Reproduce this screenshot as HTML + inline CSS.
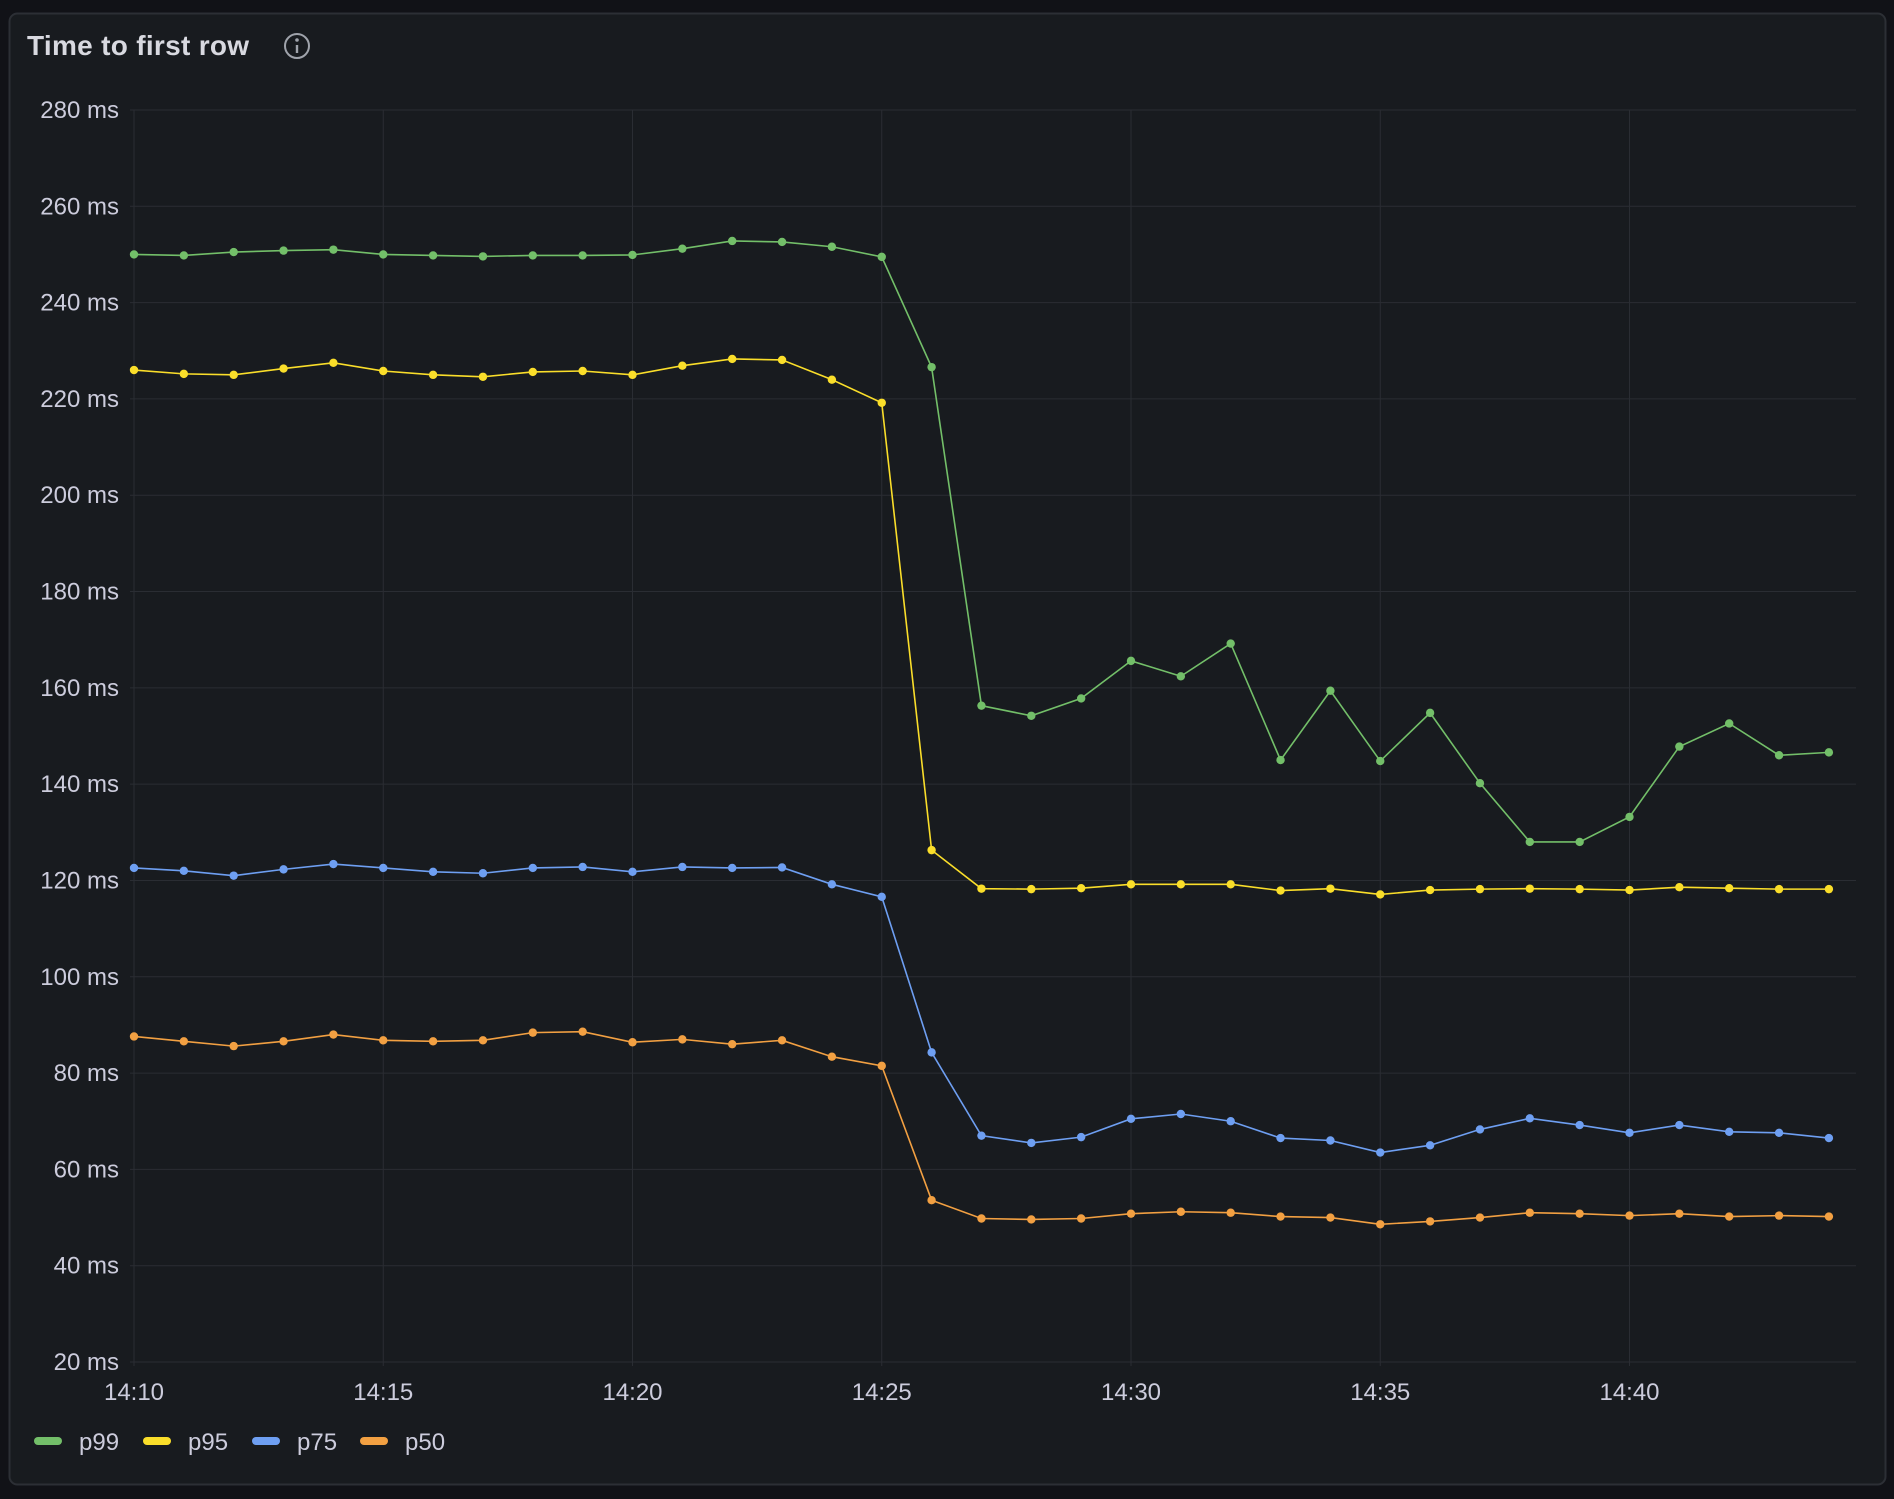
<!DOCTYPE html>
<html><head><meta charset="utf-8"><style>
body{margin:0;background:#111217;width:1894px;height:1494px;overflow:hidden;font-family:"Liberation Sans",sans-serif}
</style></head><body>
<svg id="s" width="1894" height="1494" xmlns="http://www.w3.org/2000/svg" font-family="Liberation Sans, sans-serif">
<rect x="9.5" y="13.5" width="1876" height="1471" rx="8" fill="#181b1f" stroke="#2c2f35" stroke-width="2"/>
<text x="27" y="55" fill="#d8d9e0" font-size="28" font-weight="bold" letter-spacing="0.3">Time to first row</text>
<circle cx="297" cy="46" r="12" fill="none" stroke="#9fa3ab" stroke-width="2"/>
<circle cx="297" cy="40" r="1.8" fill="#9fa3ab"/>
<line x1="297" y1="45" x2="297" y2="53" stroke="#9fa3ab" stroke-width="2.4"/>
<g id="g"></g>
</svg>
<script>
const ns="http://www.w3.org/2000/svg",g=document.getElementById('g');
function el(t,a,txt){const e=document.createElementNS(ns,t);for(const k in a)e.setAttribute(k,a[k]);if(txt!==undefined)e.textContent=txt;g.appendChild(e);return e;}
const X0=134,DX=49.85,Y=v=>1362-(v-20)*(1252/260);
for(let v=20;v<=280;v+=20){const y=Y(v);el('line',{x1:130,x2:1856,y1:y,y2:y,stroke:'#2a2d33','stroke-width':1});
el('text',{x:119,y:y+8,'text-anchor':'end',fill:'#ccccdc','font-size':24},v+' ms');}
for(let m=0;m<=30;m+=5){const x=X0+m*DX;el('line',{x1:x,x2:x,y1:110,y2:1366,stroke:'#2a2d33','stroke-width':1});
el('text',{x:x,y:1400,'text-anchor':'middle',fill:'#ccccdc','font-size':24},'14:'+(10+m));}
const S=[
['#73bf69',[250,249.8,250.5,250.8,251,250,249.8,249.6,249.8,249.8,249.9,251.2,252.8,252.6,251.6,249.5,226.6,156.3,154.2,157.8,165.6,162.4,169.2,145,159.4,144.8,154.8,140.2,128,128,133.2,147.8,152.6,146,146.6]],
['#fade2a',[226,225.2,225,226.3,227.5,225.8,225,224.6,225.6,225.8,225,226.9,228.3,228.1,224,219.2,126.3,118.3,118.2,118.4,119.2,119.2,119.2,117.9,118.3,117.1,118,118.2,118.3,118.2,118,118.6,118.4,118.2,118.2]],
['#6e9ff2',[122.6,122,121,122.3,123.4,122.6,121.8,121.5,122.6,122.8,121.8,122.8,122.6,122.7,119.2,116.6,84.3,67,65.5,66.7,70.5,71.5,70,66.5,66,63.5,65,68.3,70.6,69.2,67.6,69.2,67.8,67.6,66.5]],
['#f2a042',[87.6,86.6,85.6,86.6,88,86.8,86.6,86.8,88.4,88.6,86.4,87,86,86.8,83.4,81.5,53.6,49.8,49.6,49.8,50.8,51.2,51,50.2,50,48.6,49.2,50,51,50.8,50.4,50.8,50.2,50.4,50.2]]];
S.forEach(([c,d])=>{el('polyline',{points:d.map((v,i)=>(X0+i*DX)+','+Y(v)).join(' '),fill:'none',stroke:c,'stroke-width':1.6});
d.forEach((v,i)=>el('circle',{cx:X0+i*DX,cy:Y(v),r:4.2,fill:c}));});
const L=[['p99',34],['p95',143],['p75',252],['p50',360]];
L.forEach(([t,x],i)=>{el('rect',{x:x,y:1437,width:28,height:8,rx:4,fill:S[i][0]});el('text',{x:x+45,y:1450,fill:'#ccccdc','font-size':24},t);});
</script>
</body></html>
